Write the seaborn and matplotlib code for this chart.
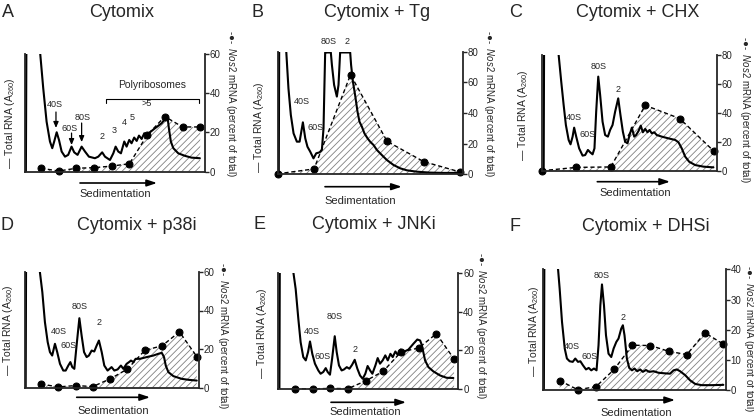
import seaborn as sns
import matplotlib.pyplot as plt

# ================= DATA =================
# gradient fractions that were assayed for Nos2 mRNA
frac_10 = [1, 2, 3, 4, 5, 6, 7, 8, 9, 10]
frac_6 = [0, 2, 4, 6, 8, 10]

# Nos2 mRNA, percent of total
nos2_A = [1.7, 0.3, 1.7, 2.0, 2.8, 4.0, 18.5, 28.0, 22.7, 22.7]
nos2_B = [0.3, 3.5, 65.0, 21.5, 8.3, 1.5]
nos2_C = [0.2, 2.5, 2.8, 45.3, 36.2, 13.5]
nos2_D = [1.8, 0.3, 1.0, 0.5, 4.5, 9.6, 19.3, 21.7, 28.9, 16.1]
nos2_E = [0.2, 0.1, 0.3, 0.2, 4.2, 9.2, 19.2, 21.2, 28.6, 15.5]
nos2_F = [3.2, 0.2, 1.2, 6.9, 14.9, 14.8, 12.9, 11.8, 19.0, 15.3]

# A260 traces (x in fraction units, y in right-axis units)
trace_x_A = [0.15, 0.19, 0.9, 0.94, 1.13, 1.32, 1.51, 1.64, 1.75, 1.89, 2.02, 2.17, 2.36, 2.54, 2.73, 2.88,
             3.07, 3.30, 3.49, 3.71, 4.05, 4.24, 4.46, 4.62, 4.90, 5.09, 5.22, 5.37, 5.52, 5.71, 5.84, 5.99,
             6.12, 6.27, 6.41, 6.54, 6.69, 6.84, 6.97, 7.16, 7.44, 7.82, 8.04, 8.16, 8.23, 8.34, 8.48, 8.76,
             9.14, 9.51, 9.98]
trace_y_A = [0, 90, 90, 62, 42.4, 25.4, 15.3, 11.9, 15.3, 20.0, 16.1, 10.2, 7.6, 8.5, 12.7, 9.8,
             8.5, 12.7, 10.2, 7.6, 6.8, 7.6, 9.8, 7.6, 5.9, 9.3, 12.7, 10.2, 9.3, 15.3, 12.7, 16.1,
             14.4, 17.3, 15.6, 18.3, 16.6, 19.5, 18.3, 20.0, 22.0, 24.6, 27.1, 27.1, 22.0, 15.3, 11.9, 9.3,
             8.0, 7.1, 6.8]

trace_x_B = [0.07, 0.1, 0.42, 0.48, 0.60, 0.73, 0.88, 1.06, 1.21, 1.39, 1.52, 1.64, 1.79, 1.97,
             2.12, 2.30, 2.43, 2.52, 2.57, 2.61, 2.67, 2.92, 2.98, 3.10, 3.25, 3.34, 3.43, 3.98,
             4.03, 4.13, 4.25, 4.38, 4.49, 4.62, 4.76, 4.93, 5.07, 5.26, 5.44, 5.71, 5.99,
             6.35, 6.72, 7.08, 7.63, 8.36, 9.09, 10.0]
trace_y_B = [0, 110, 110, 80, 56, 38.7, 26.7, 21.3, 21.3, 33.9, 23.5, 18.0, 14.8, 10.4,
             13.7, 14.3, 15.9, 30, 58, 79.5, 79.5, 79.5, 71.3, 58.3, 50.7, 58.3, 79.5, 79.5,
             71.3, 60.4, 51.7, 40.9, 34.3, 31.1, 26.7, 23.5, 21.3, 19.1, 15.9, 12.6, 9.3,
             6.1, 3.9, 2.6, 1.7, 1.1, 0.9, 0.9]

trace_x_C = [0.1, 0.13, 0.9, 0.97, 1.12, 1.26, 1.39, 1.55, 1.66, 1.78, 1.87, 1.99, 2.16, 2.36, 2.51, 2.67,
             2.80, 2.94, 3.05, 3.15, 3.27, 3.38, 3.52, 3.67, 3.83, 3.96, 4.10, 4.25, 4.43, 4.56, 4.70, 4.83,
             4.97, 5.09, 5.22, 5.36, 5.47, 5.61, 5.74, 5.86, 6.00, 6.13, 6.25, 6.38, 6.52, 6.67, 6.96,
             7.35, 7.74, 7.93, 8.12, 8.32, 8.55, 8.90, 9.38, 9.96]
trace_y_C = [0, 110, 110, 80, 61.6, 45.5, 31.7, 21.4, 18.4, 23.7, 29.9, 23.7, 15.6, 10.6, 11.0, 14.5,
             12.9, 11.5, 15.6, 40.9, 65.1, 52.4, 34.0, 24.8, 23.7, 28.3, 31.7, 40.9, 50.1, 38.6, 27.1, 20.2,
             19.1, 24.8, 29.9, 23.7, 24.8, 27.6, 31.3, 26.7, 29.0, 26.7, 28.3, 26.0, 26.7, 24.8, 23.7,
             22.5, 21.4, 19.8, 15.6, 9.9, 6.4, 4.1, 3.0, 2.5]

trace_x_D = [0.12, 0.15, 0.9, 0.94, 1.08, 1.23, 1.39, 1.52, 1.65, 1.81, 1.94, 2.10, 2.29, 2.43, 2.58, 2.70,
             2.81, 2.93, 3.04, 3.22, 3.35, 3.49, 3.64, 3.77, 3.93, 4.08, 4.22, 4.35, 4.51, 4.66, 4.85,
             5.08, 5.24, 5.43, 5.62, 5.76, 5.95, 6.09, 6.20, 6.34, 6.47, 6.72, 7.11, 7.49, 7.78, 7.98,
             8.11, 8.21, 8.36, 8.65, 9.13, 9.52, 10.0]
trace_y_D = [0, 90, 90, 60, 49.6, 34.0, 23.6, 18.4, 16.6, 22.7, 18.4, 12.3, 8.8, 8.8, 11.4, 13.2,
             10.6, 9.7, 20.1, 36.0, 27.0, 18.4, 15.8, 16.6, 19.2, 18.7, 21.8, 24.4, 18.4, 11.4, 8.8,
             10.6, 8.8, 9.4, 11.4, 9.7, 12.3, 13.2, 14.0, 13.2, 14.9, 14.9, 15.8, 16.6, 17.5, 18.0,
             15.8, 11.4, 8.0, 5.9, 4.5, 4.0, 3.6]

trace_x_E = [0.12, 0.15, 0.88, 0.91, 1.04, 1.19, 1.32, 1.47, 1.61, 1.74, 1.85, 1.98, 2.13, 2.32, 2.45, 2.60,
             2.74, 2.85, 2.98, 3.10, 3.25, 3.36, 3.49, 3.64, 3.77, 3.93, 4.08, 4.23, 4.38, 4.53, 4.68, 4.83,
             4.98, 5.11, 5.25, 5.38, 5.55, 5.68, 5.81, 5.96, 6.11, 6.25, 6.40, 6.53, 6.68, 6.81, 6.98,
             7.13, 7.42, 7.70, 7.92, 8.08, 8.17, 8.26, 8.36, 8.55, 8.83, 9.21, 9.58, 9.96]
trace_y_E = [0, 90, 90, 60.3, 51.7, 36.3, 24.2, 16.5, 14.8, 19.1, 24.6, 18.2, 13.1, 9.6, 7.9, 8.8,
             10.8, 8.8, 7.4, 15.6, 27.3, 19.1, 12.2, 9.6, 10.1, 11.3, 10.5, 12.5, 15.1, 10.5, 7.0, 5.3,
             7.9, 11.9, 9.6, 7.9, 12.2, 16.0, 13.1, 14.8, 17.4, 14.8, 18.2, 16.5, 19.4, 17.7, 20.4,
             19.1, 20.4, 23.4, 25.6, 25.1, 22.9, 19.1, 14.8, 11.3, 9.1, 7.0, 5.8, 5.7]

trace_x_F = [0.13, 0.17, 0.88, 0.91, 1.00, 1.13, 1.28, 1.40, 1.55, 1.72, 1.86, 2.01, 2.14, 2.28, 2.45, 2.60,
             2.74, 2.89, 3.03, 3.14, 3.24, 3.33, 3.44, 3.55, 3.69, 3.84, 3.97, 4.12, 4.24, 4.39, 4.48,
             4.57, 4.70, 4.83, 4.98, 5.12, 5.27, 5.43, 5.58, 5.75, 5.93, 6.17, 6.44, 6.81, 7.08, 7.27,
             7.45, 7.63, 7.91, 8.18, 8.46, 8.82, 9.37, 10.01]
trace_y_F = [0, 60, 60, 40.2, 33.6, 22.6, 13.8, 10.5, 9.6, 9.4, 10.5, 9.4, 9.6, 8.3, 6.9, 7.4,
             6.6, 7.2, 6.6, 14.9, 28.1, 35.0, 28.1, 18.2, 12.1, 11.0, 13.8, 16.0, 17.1, 20.4, 21.5,
             18.2, 10.5, 7.4, 6.6, 7.2, 6.3, 6.9, 6.1, 6.7, 6.1, 6.3, 5.8, 5.6, 5.5, 6.6,
             6.9, 6.3, 5.0, 3.3, 2.1, 1.7, 1.7, 1.8]

# peak labels (data coords)
peaks_A = {'40S': (1.79, 33.9), '60S': (2.60, 22.0), '80S': (3.36, 27.6), '2': (4.46, 18.1),
           '3': (5.14, 20.8), '4': (5.71, 24.9), '5': (6.18, 27.6), '>5': (6.97, 34.7)}
peaks_B = {'80S': (2.79, 86.5), '2': (3.80, 86.5), '40S': (1.33, 47.3), '60S': (2.10, 30.3)}
peaks_C = {'80S': (3.28, 72.4), '2': (4.44, 55.9), '40S': (1.87, 37.0), '60S': (2.65, 25.5)}
peaks_D = {'80S': (3.25, 41.9), '2': (4.37, 33.6), '40S': (2.04, 28.9), '60S': (2.58, 21.8)}
peaks_E = {'80S': (3.27, 37.7), '2': (4.40, 20.2), '40S': (1.95, 29.6), '60S': (2.57, 16.7)}
peaks_F = {'80S': (3.33, 38.1), '2': (4.48, 24.1), '40S': (1.68, 14.6), '60S': (2.65, 11.1)}

titles = ['Cytomix', 'Cytomix + Tg', 'Cytomix + CHX', 'Cytomix + p38i', 'Cytomix + JNKi', 'Cytomix + DHSi']
letters = ['A', 'B', 'C', 'D', 'E', 'F']

# ================= LAYOUT (pixels, y from top) =================
W, H = 754, 418
panels = [
    dict(box=(25, 53.6, 205, 171.6), xlim=(0.1, 10.27), ymax=60, step=20, tx=trace_x_A, ty=trace_y_A,
         nx=frac_10, ny=nos2_A, peaks=peaks_A, let=(1.7, 16.7), tit=(122, 16.7),
         sed=(80, 157, 183), sed_t=(115, 194), llab=(10, 123), rlab=(231, 30)),
    dict(box=(277.5, 51.7, 462.5, 174.3), xlim=(0.0, 10.13), ymax=80, step=20, tx=trace_x_B, ty=trace_y_B,
         nx=frac_6, ny=nos2_B, peaks=peaks_B, let=(251.7, 17.3), tit=(377, 17.3),
         sed=(325, 401.7, 186.7), sed_t=(360, 201), llab=(259.3, 127), rlab=(489, 30)),
    dict(box=(542.3, 55, 716.7, 171), xlim=(0.02, 10.15), ymax=80, step=20, tx=trace_x_C, ty=trace_y_C,
         nx=frac_6, ny=nos2_C, peaks=peaks_C, let=(509.3, 17.3), tit=(637.2, 17.3),
         sed=(597.3, 670, 181.7), sed_t=(635, 192.7), llab=(522.7, 115), rlab=(745.5, 36)),
    dict(box=(25, 272, 199, 387.5), xlim=(0.08, 10.13), ymax=60, step=20, tx=trace_x_D, ty=trace_y_D,
         nx=frac_10, ny=nos2_D, peaks=peaks_D, let=(0.7, 230), tit=(136.7, 230),
         sed=(76.7, 150, 397.3), sed_t=(113.3, 411), llab=(8.3, 330), rlab=(223, 262)),
    dict(box=(278, 273, 458.3, 389), xlim=(0.04, 10.24), ymax=60, step=20, tx=trace_x_E, ty=trace_y_E,
         nx=frac_10, ny=nos2_E, peaks=peaks_E, let=(253.3, 229.3), tit=(374.2, 229.3),
         sed=(331, 406, 402.3), sed_t=(365, 411.7), llab=(261.7, 333), rlab=(481.5, 252)),
    dict(box=(543.3, 269.3, 725.7, 390.3), xlim=(0.1, 10.14), ymax=40, step=10, tx=trace_x_F, ty=trace_y_F,
         nx=frac_10, ny=nos2_F, peaks=peaks_F, let=(509.3, 230.7), tit=(645.8, 230.7),
         sed=(598.3, 675, 400), sed_t=(636.7, 412.7), llab=(534.3, 331), rlab=(748.5, 265)),
]


def fp(x, y):
    return (x / W, 1 - y / H)


sns.set_style("ticks")
plt.rcParams['font.family'] = ['Liberation Sans', 'DejaVu Sans']
plt.rcParams['mathtext.fontset'] = 'custom'
plt.rcParams['mathtext.rm'] = 'Liberation Sans'
plt.rcParams['mathtext.it'] = 'Liberation Sans:italic'
plt.rcParams['hatch.linewidth'] = 0.6

fig = plt.figure(figsize=(W / 100, H / 100), dpi=100)

for i, p in enumerate(panels):
    l, t, r, b = p['box']
    ax = fig.add_axes([l / W, 1 - b / H, (r - l) / W, (b - t) / H])
    ax2 = ax.twinx()
    ax.set_zorder(ax2.get_zorder() + 1)
    ax.patch.set_visible(False)

    # Nos2 mRNA: hatched area + dashed line with dots
    ax2.fill_between(p['nx'], p['ny'], 0, facecolor='white', edgecolor='#808080',
                     hatch='/////', linewidth=0)
    sns.lineplot(x=p['nx'], y=p['ny'], ax=ax2, color='k', linewidth=1, linestyle=(0, (3, 2)),
                 marker='o', markersize=5, markeredgecolor='k', clip_on=False)

    # total RNA trace
    sns.lineplot(x=p['tx'], y=p['ty'], ax=ax, color='k', linewidth=1.5, sort=False, estimator=None)

    ax.set_xlim(*p['xlim'])
    ax.set_ylim(0, p['ymax'])
    ax2.set_ylim(0, p['ymax'])
    ax.set_xticks([])
    ax.set_yticks([])
    ax2.set_yticks(range(0, p['ymax'] + 1, p['step']))
    for a in (ax, ax2):
        a.set_xlabel('')
        a.set_ylabel('')
        a.spines['top'].set_visible(False)
    ax.spines['right'].set_visible(False)
    ax2.spines['left'].set_visible(False)
    ax2.spines['bottom'].set_visible(False)
    for s in ('left', 'bottom'):
        ax.spines[s].set_linewidth(1.3)
    ax2.spines['right'].set_linewidth(1.3)
    ax2.tick_params(axis='y', right=True, left=False, length=3, width=1, direction='out',
                    labelsize=7, pad=0.5)

    for name, (x, y) in p['peaks'].items():
        ax.text(x, y, name, fontsize=6.5, ha='center', va='center')

    if i == 0:
        for x, y0, y1 in [(1.85, 30.3, 22.2), (2.73, 19.6, 13.5), (3.30, 24.7, 15.0)]:
            ax.annotate('', xy=(x, y1), xytext=(x, y0),
                        arrowprops=dict(arrowstyle='-|>,head_length=0.35,head_width=0.15',
                                        color='k', lw=0.9, shrinkA=0, shrinkB=0))
        ax.plot([4.67, 4.67, 9.93, 9.93], [35.0, 36.9, 36.9, 35.0], color='k', lw=0.8)
        ax.text(7.27, 44.0, 'Polyribosomes', fontsize=7.5, ha='center', va='center')

    # titles and letters
    fig.text(*fp(*p['let']), letters[i], fontsize=13, ha='left', va='baseline')
    fig.text(*fp(*p['tit']), titles[i], fontsize=13, ha='center', va='baseline')

    # sedimentation arrow
    x0, x1, ys = p['sed']
    ax.annotate('', xy=fp(x1, ys), xytext=fp(x0, ys), xycoords='figure fraction',
                textcoords='figure fraction',
                arrowprops=dict(arrowstyle='-|>,head_length=0.6,head_width=0.2',
                                color='k', lw=1.2, shrinkA=0, shrinkB=0))
    fig.text(*fp(*p['sed_t']), 'Sedimentation', fontsize=8, ha='center', va='center')

    # axis labels
    fig.text(*fp(*p['llab']), '\u2014 Total RNA (A$_{260}$)', fontsize=7.5, rotation=90,
             ha='center', va='center')
    fig.text(*fp(*p['rlab']), '-\u25CF-  $\\it{Nos2}$ mRNA (percent of total)', fontsize=7,
             rotation=270, ha='center', va='top')

fig.savefig('out.png', dpi=100)
